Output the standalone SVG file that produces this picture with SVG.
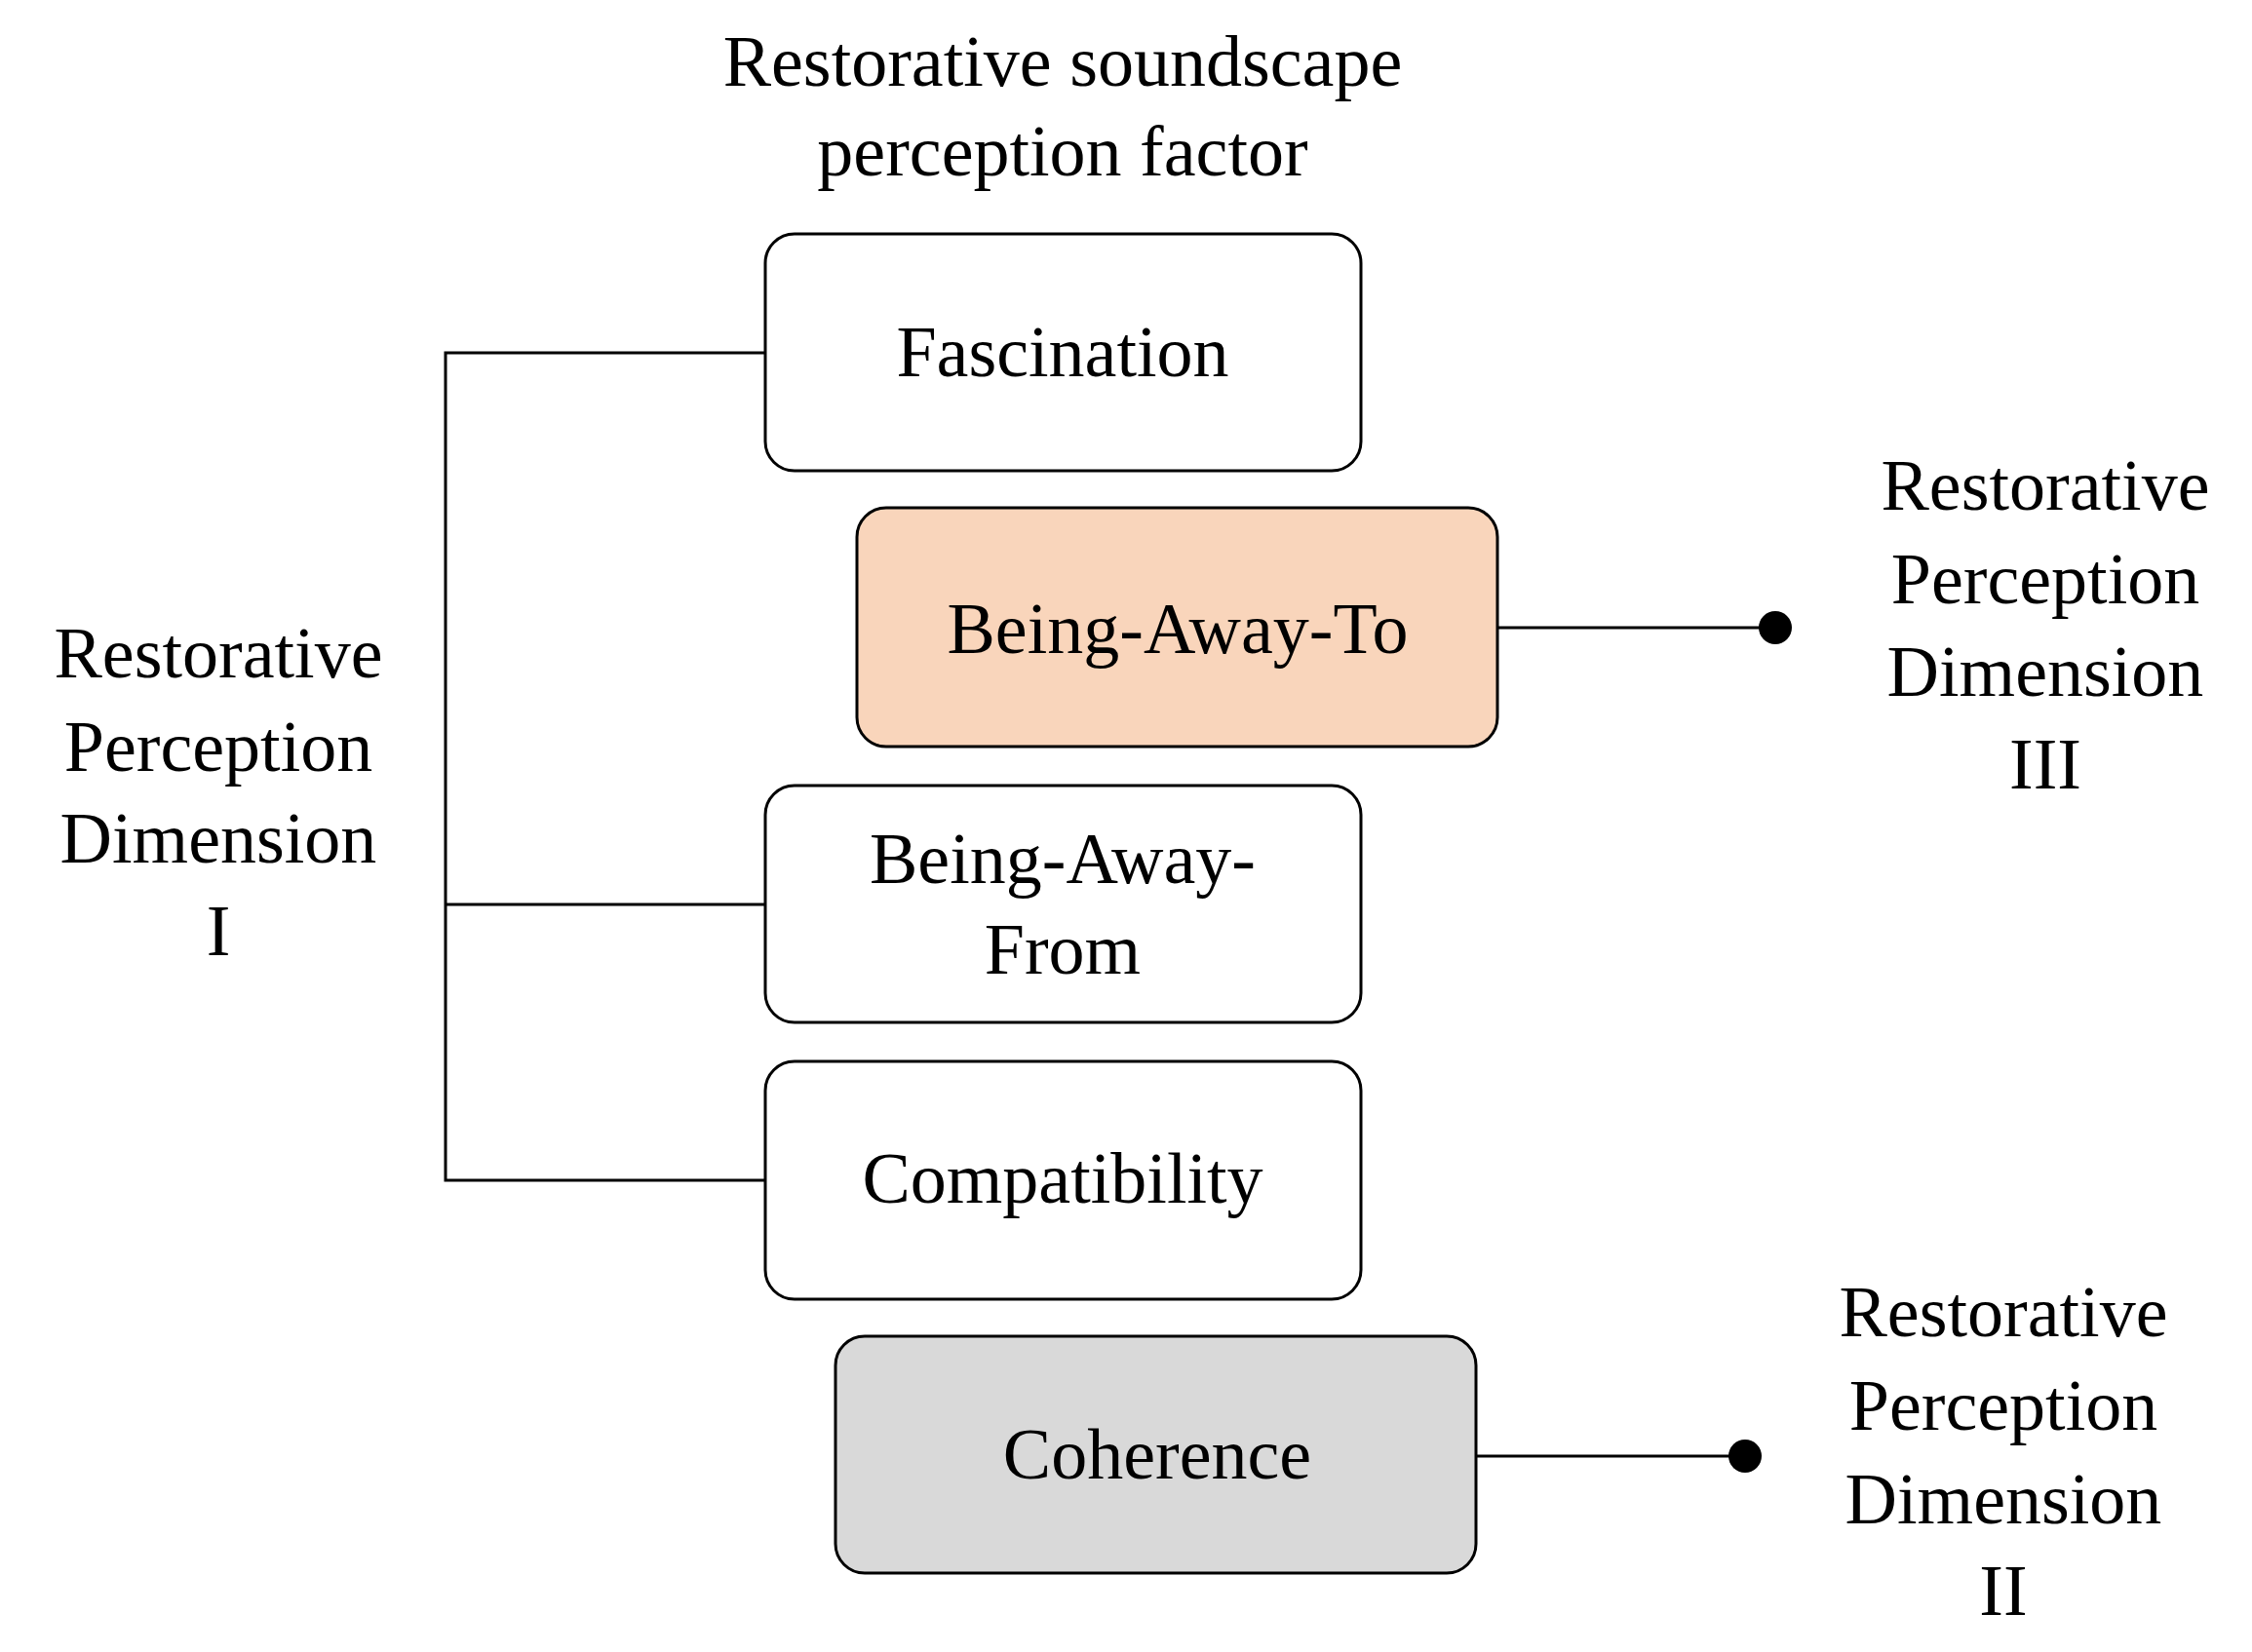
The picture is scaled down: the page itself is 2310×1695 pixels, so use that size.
<svg xmlns="http://www.w3.org/2000/svg" width="2310" height="1695" viewBox="0 0 2310 1695">
<style>
text{font-family:"Liberation Serif","DejaVu Serif",serif;font-size:74px;fill:#000;text-anchor:middle}
.box{stroke:#000;stroke-width:3}
.ln{stroke:#000;stroke-width:3;fill:none}
</style>
<rect width="2310" height="1695" fill="#fff"/>
<g id="title"><text x="1090" y="88">Restorative soundscape</text><text x="1090" y="180">perception factor</text></g>
<g id="connectors">
<path class="ln" d="M785 362H457V1211H785M457 928H785"/>
<path class="ln" d="M1536 644H1821M1514 1494H1790"/>
<circle cx="1821" cy="644" r="17"/>
<circle cx="1790" cy="1494" r="17"/>
</g>
<g id="fascination"><rect class="box" x="785" y="240" width="611" height="243" rx="30" fill="#fff"/><text x="1090" y="386">Fascination</text></g>
<g id="bat"><rect class="box" x="879" y="521" width="657" height="245" rx="30" fill="#f9d5bb"/><text x="1208" y="670">Being-Away-To</text></g>
<g id="baf"><rect class="box" x="785" y="806" width="611" height="243" rx="30" fill="#fff"/><text x="1090" y="906">Being-Away-</text><text x="1090" y="999">From</text></g>
<g id="compat"><rect class="box" x="785" y="1089" width="611" height="244" rx="30" fill="#fff"/><text x="1090" y="1234">Compatibility</text></g>
<g id="coherence"><rect class="box" x="857" y="1371" width="657" height="243" rx="30" fill="#d9d9d9"/><text x="1187" y="1517">Coherence</text></g>
<g id="dim1"><text x="224" y="695">Restorative</text><text x="224" y="791">Perception</text><text x="224" y="885">Dimension</text><text x="224" y="980">I</text></g>
<g id="dim3"><text x="2098" y="523">Restorative</text><text x="2098" y="619">Perception</text><text x="2098" y="714">Dimension</text><text x="2098" y="809">III</text></g>
<g id="dim2"><text x="2055" y="1371">Restorative</text><text x="2055" y="1467">Perception</text><text x="2055" y="1563">Dimension</text><text x="2055" y="1657">II</text></g>
</svg>
